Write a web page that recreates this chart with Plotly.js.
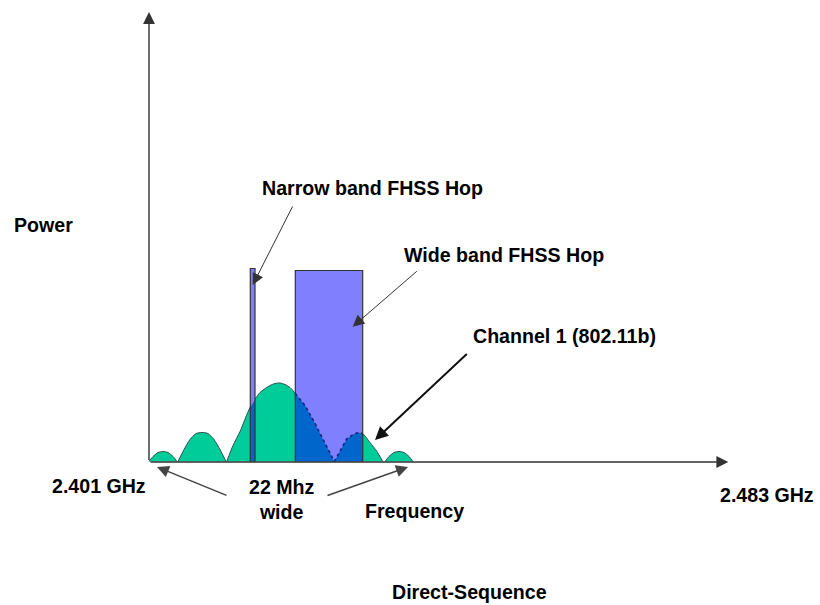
<!DOCTYPE html>
<html>
<head>
<meta charset="utf-8">
<script src="https://cdn.plot.ly/plotly-3.0.1.min.js"></script>
<style>
  html, body { margin: 0; padding: 0; background: #ffffff; }
  #chart { width: 820px; height: 605px; }
</style>
</head>
<body>
<div id="chart"></div>
<script>
// ---- Data (abstract frequency units along x, power units along y) ----
// Direct-sequence spectrum: main lobe and side lobes
const sideLobeL2X = [0, 4, 9, 14, 19, 24, 28];
const sideLobeL2Y = [0, 5, 9, 10, 9, 5, 0];
const sideLobeL1X = [29, 35, 41, 47, 53, 59, 65, 71, 77];
const sideLobeL1Y = [0, 12, 22, 28, 29, 28, 22, 12, 0];
const mainLobeX = [77.7, 84, 91, 101, 111, 121, 126, 131, 136, 141, 146.3, 156, 166, 176, 185.3];
const mainLobeY = [0, 16, 30, 54, 69, 76, 78, 78.5, 77, 74, 68, 56, 38, 18, 0];
const sideLobeR1X = [185.3, 191, 198, 206, 210, 213.7, 221, 228, 233.7];
const sideLobeR1Y = [0, 11, 23, 28, 29, 28, 19, 10, 0];
const sideLobeR2X = [236, 240, 245, 250, 255, 260, 264];
const sideLobeR2Y = [0, 5, 9, 10, 9, 5, 0];

// FHSS hops: [start, end] on the frequency axis and hop power
const narrowHopX = [101.3, 106];
const narrowHopPower = 193;
const wideHopX = [146.3, 213.7];
const wideHopPower = 191;

// Axis end labels
const freqStartLabel = '2.401 GHz';
const freqEndLabel = '2.483 GHz';

// ---- Styles ----
const GREEN = '#00CC99';
const LOBE_LINE = '#2F5050';
const HOP_FILL = '#8080FF';
const OVERLAP = '#0066CC';
const DARK = '#333333';
const FONT = { family: 'Liberation Sans, Arial, sans-serif', size: 19.6, color: '#000000', weight: 'bold' };

const lobes = [
  [sideLobeL2X, sideLobeL2Y],
  [sideLobeL1X, sideLobeL1Y],
  [mainLobeX, mainLobeY],
  [sideLobeR1X, sideLobeR1Y],
  [sideLobeR2X, sideLobeR2Y]
];
const hops = [
  [narrowHopX, narrowHopPower],
  [wideHopX, wideHopPower]
];

function valueAt(xs, ys, x) {
  for (let i = 0; i < xs.length - 1; i++) {
    if (x >= xs[i] && x <= xs[i + 1]) {
      const t = (x - xs[i]) / (xs[i + 1] - xs[i]);
      return ys[i] + t * (ys[i + 1] - ys[i]);
    }
  }
  return 0;
}

// part of a lobe lying inside a hop (geometric clipping)
function clipLobe(xs, ys, a, b) {
  const lo = Math.max(a, xs[0]);
  const hi = Math.min(b, xs[xs.length - 1]);
  if (hi <= lo) return null;
  const cx = [lo], cy = [valueAt(xs, ys, lo)];
  for (let i = 0; i < xs.length; i++) {
    if (xs[i] > lo && xs[i] < hi) { cx.push(xs[i]); cy.push(ys[i]); }
  }
  cx.push(hi); cy.push(valueAt(xs, ys, hi));
  return [cx, cy];
}

const traces = [];

// green lobes
lobes.forEach(([xs, ys]) => {
  traces.push({
    x: xs, y: ys, type: 'scatter', mode: 'lines', fill: 'toself',
    fillcolor: GREEN, line: { color: LOBE_LINE, width: 1, shape: 'spline', smoothing: 0.6 }, hoverinfo: 'skip'
  });
});

// hop fills
hops.forEach(([hx, p]) => {
  traces.push({
    x: [hx[0], hx[0], hx[1], hx[1], hx[0]], y: [0, p, p, 0, 0],
    type: 'scatter', mode: 'lines', fill: 'toself', fillcolor: HOP_FILL,
    line: { width: 0, color: 'rgba(0,0,0,0)' }, hoverinfo: 'skip'
  });
});

// overlap of hops and spectrum
hops.forEach(([hx, p], hi) => {
  lobes.forEach(([xs, ys]) => {
    const c = clipLobe(xs, ys, hx[0], hx[1]);
    if (!c) return;
    const [cx, cy] = c;
    traces.push({
      x: cx.concat([cx[cx.length - 1], cx[0], cx[0]]),
      y: cy.concat([0, 0, cy[0]]),
      type: 'scatter', mode: 'lines', fill: 'toself', fillcolor: OVERLAP,
      line: { width: 0, color: 'rgba(0,0,0,0)' }, hoverinfo: 'skip'
    });
    if (hi === 1) {
      traces.push({
        x: cx, y: cy, type: 'scatter', mode: 'lines',
        line: { color: '#1A237E', width: 1.6, dash: 'dot' }, hoverinfo: 'skip'
      });
    }
  });
});

// hop outlines
hops.forEach(([hx, p]) => {
  traces.push({
    x: [hx[0], hx[0], hx[1], hx[1]], y: [0, p, p, 0],
    type: 'scatter', mode: 'lines',
    line: { color: DARK, width: 1.2 }, hoverinfo: 'skip'
  });
});

function arrow(tailX, tailY, tipX, tipY, w, s, color) {
  return {
    x: tipX, y: tipY, ax: tailX, ay: tailY, axref: 'x', ayref: 'y', xref: 'x', yref: 'y',
    text: '', showarrow: true, arrowhead: 2, arrowwidth: w, arrowsize: s,
    arrowcolor: color, standoff: 0, startstandoff: 0
  };
}
function label(text, x, y) {
  return { x: x, y: y, xref: 'x', yref: 'y', text: text, showarrow: false, font: FONT,
           xanchor: 'center', yanchor: 'middle' };
}

const annotations = [
  // axes
  arrow(0, 0, 0, 449.5, 1.4, 1.7, DARK),
  arrow(0, -0.5, 579.3, -0.5, 1.4, 1.7, DARK),
  // pointers
  arrow(144.3, 256.5, 103.7, 176.5, 1, 2.3, DARK),
  arrow(269.3, 191.5, 203.7, 134.8, 1, 2.3, DARK),
  arrow(319.3, 108.8, 226, 21.5, 2, 1.3, '#111111'),
  arrow(79, -34.5, 8, -5.5, 1.5, 1.6, '#444444'),
  arrow(177, -34.5, 259, -5.5, 1.5, 1.6, '#444444'),
  // labels
  label('Power', -106, 236.5),
  label('Narrow band FHSS Hop', 223.5, 273.5),
  label('Wide band FHSS Hop', 355, 206.5),
  label('Channel 1 (802.11b)', 415, 125.5),
  label(freqStartLabel, -50, -24.5),
  label('22 Mhz<br>wide', 133, -38),
  label('Frequency', 265, -49.5),
  label(freqEndLabel, 618, -33.5),
  label('Direct-Sequence', 320, -130.5)
];

const layout = {
  width: 820, height: 605,
  margin: { l: 0, r: 0, t: 0, b: 0, pad: 0 },
  paper_bgcolor: '#ffffff', plot_bgcolor: '#ffffff',
  showlegend: false,
  xaxis: { range: [-149, 671], visible: false, fixedrange: true },
  yaxis: { range: [-143.5, 461.5], visible: false, fixedrange: true },
  annotations: annotations
};

Plotly.newPlot('chart', traces, layout, { displayModeBar: false, staticPlot: true });
</script>
</body>
</html>
